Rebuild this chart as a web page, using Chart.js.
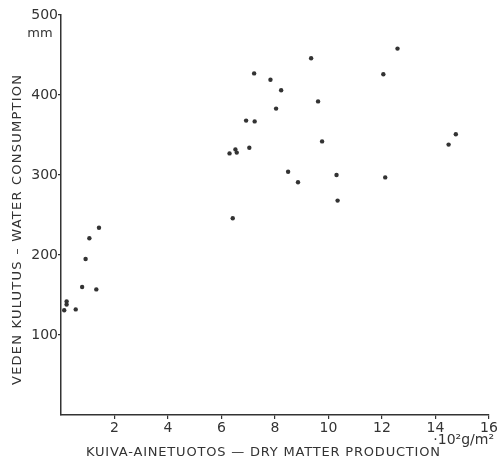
<!DOCTYPE html>
<html>
<head>
<meta charset="utf-8">
<script src="https://cdn.jsdelivr.net/npm/chart.js@4/dist/chart.umd.min.js"></script>
<style>
  body { margin: 0; background: #fff; }
  canvas { display: block; }
</style>
</head>
<body>
<canvas id="waterChart" width="504" height="467"></canvas>
<script>
// dry matter production, x 10^2 g/m2
const dryMatter = [
    0.12, 0.21, 0.21, 0.55, 0.79, 1.32, 0.92, 1.06, 1.42,
    6.30, 6.42, 6.52, 6.57, 6.92, 7.04, 7.22, 7.24, 7.83, 8.04, 8.23,
    8.49, 8.86, 9.35, 9.61, 9.76, 10.30, 10.34,
    12.05, 12.12, 12.58, 14.49, 14.76,
];
// water consumption, mm
const waterUse = [
    131, 142, 138, 132, 160, 157, 195, 221, 234,
    327, 246, 332, 328, 368, 334, 427, 367, 419, 383, 406,
    304, 291, 446, 392, 342, 300, 268,
    426, 297, 458, 338, 351,
];
const xTicks = [2, 4, 6, 8, 10, 12, 14, 16];
const yTicks = [100, 200, 300, 400, 500];

const ink = '#333333';
const fontFamily = '"DejaVu Sans", Verdana, sans-serif';

const points = dryMatter.map((x, i) => ({x: x, y: waterUse[i]}));

// fit text to a given width by spreading the letters
const spacedText = (ctx, text, x, y, width) => {
    ctx.letterSpacing = '0px';
    const w = ctx.measureText(text).width;
    const gap = Math.max(0, (width - w) / (text.length - 1));
    ctx.letterSpacing = gap + 'px';
    ctx.fillText(text, x + gap / 2, y);
    ctx.letterSpacing = '0px';
};

const labelsPlugin = {
    id: 'labels',
    afterDraw(chart) {
        const ctx = chart.ctx;
        ctx.save();
        ctx.fillStyle = ink;
        ctx.textAlign = 'center';
        ctx.textBaseline = 'middle';
        ctx.font = '13px ' + fontFamily;

        spacedText(ctx, 'KUIVA-AINETUOTOS — DRY MATTER PRODUCTION', 263, 453, 354);

        ctx.save();
        ctx.translate(18, 230);
        ctx.rotate(-Math.PI / 2);
        spacedText(ctx, 'VEDEN KULUTUS – WATER CONSUMPTION', 0, 0, 310);
        ctx.restore();

        ctx.font = '13px ' + fontFamily;
        ctx.fillText('mm', 40, 34);

        ctx.textAlign = 'right';
        ctx.font = '14px ' + fontFamily;
        ctx.fillText('·10²g/m²', 494, 440);
        ctx.restore();
    },
};

new Chart(document.getElementById('waterChart'), {
    type: 'scatter',
    data: {
        datasets: [
            {
                data: points,
                pointRadius: 2.2,
                pointBackgroundColor: ink,
                pointBorderWidth: 0,
                showLine: false,
            },
        ],
    },
    options: {
        responsive: false,
        animation: false,
        layout: {
            padding: {top: 15, right: 15, left: 0, bottom: 0},
        },
        plugins: {
            legend: {display: false},
            tooltip: {enabled: false},
        },
        scales: {
            x: {
                type: 'linear',
                min: 0,
                max: 16,
                afterFit: (scale) => { scale.height = 52; },
                afterBuildTicks: (scale) => {
                    scale.ticks = xTicks.map((v) => ({value: v}));
                },
                ticks: {
                    color: ink,
                    padding: 1,
                    font: {family: fontFamily, size: 14},
                },
                grid: {
                    drawOnChartArea: false,
                    tickLength: 4,
                    color: ink,
                    lineWidth: 1.2,
                },
                border: {color: ink, width: 1.5},
            },
            y: {
                type: 'linear',
                min: 0,
                max: 500,
                afterFit: (scale) => { scale.width = 61; },
                afterBuildTicks: (scale) => {
                    scale.ticks = yTicks.map((v) => ({value: v}));
                },
                ticks: {
                    color: ink,
                    padding: 0,
                    font: {family: fontFamily, size: 14},
                },
                grid: {
                    drawOnChartArea: false,
                    tickLength: 3,
                    color: ink,
                    lineWidth: 1.2,
                },
                border: {color: ink, width: 1.5},
            },
        },
    },
    plugins: [labelsPlugin],
});
</script>
</body>
</html>
